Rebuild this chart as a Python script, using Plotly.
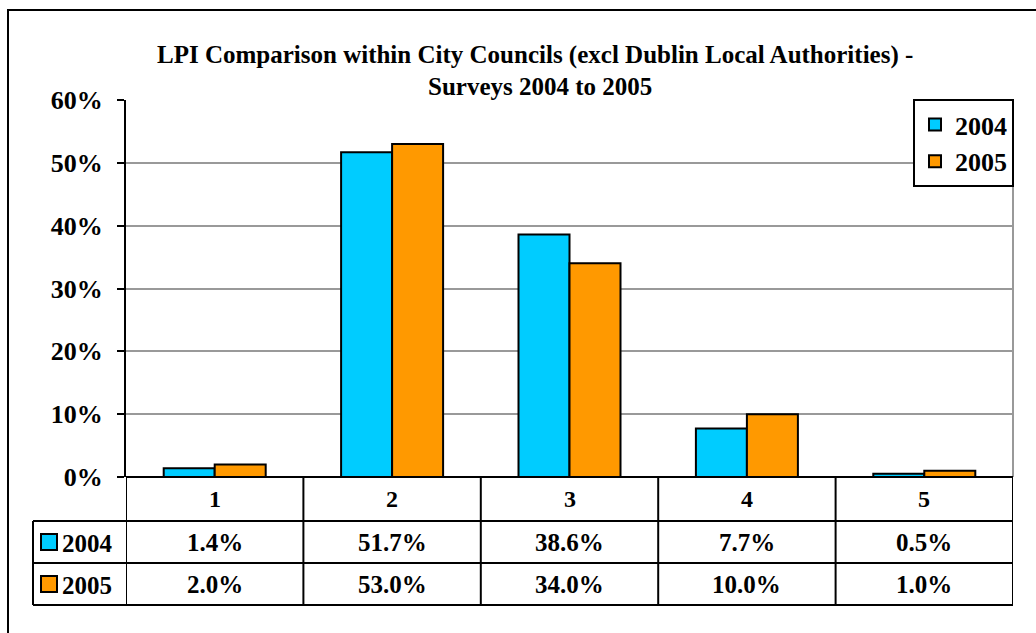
import plotly.graph_objects as go

categories = ["1", "2", "3", "4", "5"]
series_names = ["2004", "2005"]
values_2004 = [1.4, 51.7, 38.6, 7.7, 0.5]
values_2005 = [2.0, 53.0, 34.0, 10.0, 1.0]
colors = ["#00CCFF", "#FF9900"]
title_lines = ["LPI Comparison within City Councils (excl Dublin Local Authorities) -",
               "Surveys 2004 to 2005"]

W, H = 1036, 633
def px(x):
    return x / W
def py(y):
    return 1 - y / H

FONT = "Liberation Serif"
def bfont(size):
    return dict(family=FONT, size=size, color="black", weight="bold")

fig = go.Figure()
for name, vals, col in zip(series_names, [values_2004, values_2005], colors):
    fig.add_trace(go.Bar(
        x=categories, y=[v / 100 for v in vals], name=name,
        marker=dict(color=col, line=dict(color="black", width=2)),
    ))

shapes = []
annotations = []
# outer frame
shapes.append(dict(type="rect", xref="paper", yref="paper", x0=px(8), x1=px(1045),
                   y0=py(645), y1=py(10), line=dict(color="black", width=2)))
# plot area right border (gray)
shapes.append(dict(type="line", xref="paper", yref="paper", x0=px(1013), x1=px(1013),
                   y0=py(477), y1=py(100), line=dict(color="#999999", width=2)))
# table
row_y = [477, 521, 563, 605]
tx_left = px(126)
tx_right = px(1013)
shapes.append(dict(type="line", xref="paper", yref="paper", x0=tx_left, x1=tx_right,
                   y0=py(477), y1=py(477), line=dict(color="black", width=2)))
for y in row_y[1:]:
    shapes.append(dict(type="line", xref="paper", yref="paper", x0=px(33), x1=tx_right,
                       y0=py(y), y1=py(y), line=dict(color="black", width=2)))
for i in range(len(categories) + 1):
    shapes.append(dict(type="line", xref="x", yref="paper", x0=i - 0.5, x1=i - 0.5,
                       y0=py(605), y1=py(477), line=dict(color="black", width=2)))
shapes.append(dict(type="line", xref="paper", yref="paper", x0=px(33), x1=px(33),
                   y0=py(605), y1=py(521), line=dict(color="black", width=2)))

# category labels
for i, c in enumerate(categories):
    annotations.append(dict(xref="x", yref="paper", x=i, y=py(499), text=c, showarrow=False,
                            font=bfont(24), xanchor="center", yanchor="middle"))
# values + row headers
for r, (vals, name, col) in enumerate(zip([values_2004, values_2005], series_names, colors)):
    yc = (row_y[r + 1] + row_y[r + 2]) / 2
    for i, v in enumerate(vals):
        annotations.append(dict(xref="x", yref="paper", x=i, y=py(yc), text=f"{v:.1f}%",
                                showarrow=False, font=bfont(25),
                                xanchor="center", yanchor="middle"))
    shapes.append(dict(type="rect", xref="paper", yref="paper", x0=px(41), x1=px(57),
                       y0=py(yc + 8), y1=py(yc - 8), fillcolor=col,
                       line=dict(color="black", width=2)))
    annotations.append(dict(xref="paper", yref="paper", x=px(60), y=py(yc + 1), text=name,
                            showarrow=False, font=bfont(25),
                            xanchor="left", yanchor="middle"))

# title
for i, (t, yy) in enumerate(zip(title_lines, [55, 87])):
    annotations.append(dict(xref="paper", yref="paper", x=px(535 if i == 0 else 540), y=py(yy),
                            text=t, showarrow=False, font=bfont(25),
                            xanchor="center", yanchor="middle"))

fig.update_layout(
    template="none",
    width=W, height=H,
    margin=dict(l=0, r=0, t=0, b=0, pad=0, autoexpand=False),
    paper_bgcolor="white", plot_bgcolor="white",
    barmode="group", bargap=0.425, bargroupgap=0,
    showlegend=True,
    legend=dict(x=px(1014), y=py(99), xanchor="right", yanchor="top",
                bgcolor="white", bordercolor="black", borderwidth=2,
                font=bfont(26), itemwidth=30, tracegroupgap=0),
    xaxis=dict(domain=[px(126), px(1013)], range=[-0.5, 4.5], type="category",
               showticklabels=False, showgrid=False, zeroline=False, showline=False,
               ticks="", automargin=False),
    yaxis=dict(domain=[py(477), py(100)], range=[0, 0.6], dtick=0.1, tickformat=".0%",
               showgrid=True, gridcolor="#999999", gridwidth=2, zeroline=False,
               showline=True, linecolor="black", linewidth=2,
               ticks="outside", ticklen=7, tickwidth=2, tickcolor="black",
               ticklabelstandoff=9, automargin=False,
               tickfont=bfont(26)),
    shapes=shapes, annotations=annotations,
    font=dict(family=FONT),
)
fig.write_html("out.html", config={"displayModeBar": False},
               post_script="document.body.style.margin='0';document.body.style.overflow='hidden';")
